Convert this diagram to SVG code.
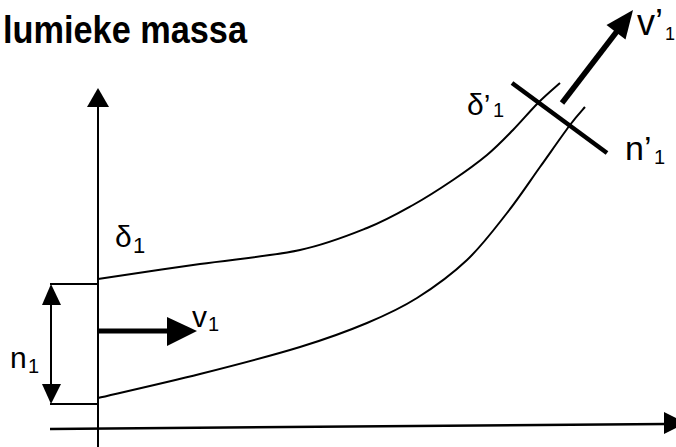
<svg xmlns="http://www.w3.org/2000/svg" width="676" height="447" viewBox="0 0 676 447">
<style>
.ln{stroke:#000;fill:none;stroke-width:2}
.thick{stroke:#000;fill:none;stroke-width:5}
.ah{fill:#000;stroke:none}
.t{font-family:"Liberation Sans",Arial,sans-serif;fill:#000}
</style>
<rect width="676" height="447" fill="#fff"/>
<g id="title"><text class="t" x="3" y="43" font-size="38" font-weight="bold" textLength="244" lengthAdjust="spacingAndGlyphs">lumieke massa</text></g>
<g id="axes">
<line class="ln" x1="98" y1="447" x2="98" y2="104"/>
<polygon class="ah" points="98,88 87,107 109,107"/>
<line class="ln" style="stroke-width:2.5" x1="50" y1="429" x2="666" y2="424"/>
<polygon class="ah" points="664,412 686,423 664,434"/>
</g>
<g id="stream">
<path class="ln" d="M98,279 C115,276.5 166.3,268.8 200,264 C233.7,259.2 272.2,256 300,250 C327.8,244 348.2,235.5 367,228 C385.8,220.5 398.7,213 413,205 C427.3,197 440.7,188.3 453,180 C465.3,171.7 477,163.3 487,155 C497,146.7 504.5,138.7 513,130 C521.5,121.3 530.2,110.8 538,103 C545.8,95.2 556.3,86.3 560,83"/>
<path class="ln" d="M98,398 C115,394 166.3,382.5 200,374 C233.7,365.5 272.2,355.5 300,347 C327.8,338.5 347.5,331.2 367,323 C386.5,314.8 400.3,308.5 417,298 C433.7,287.5 452,274.2 467,260 C482,245.8 494.8,228.5 507,213 C519.2,197.5 529.5,181.7 540,167 C550.5,152.3 562.5,135 570,125 C577.5,115 582.5,110 585,107"/>
</g>
<g id="dimension-n1">
<line class="ln" x1="50" y1="284" x2="98" y2="284"/>
<line class="ln" x1="50" y1="404" x2="98" y2="404"/>
<line class="ln" x1="51" y1="300" x2="51" y2="388"/>
<polygon class="ah" points="51,284 42,305 61,305"/>
<polygon class="ah" points="51,404 42,384 61,384"/>
<text class="t" x="10" y="368" font-size="30">n</text><text class="t" x="28" y="373" font-size="20">1</text>
</g>
<g id="v1">
<line class="thick" x1="98" y1="331" x2="170" y2="331"/>
<polygon class="ah" points="167,317 197,331 167,346"/>
<text class="t" x="192" y="327" font-size="30">v</text><text class="t" x="208" y="331" font-size="20">1</text>
</g>
<g id="delta1">
<text class="t" x="115" y="247" font-size="30">δ</text><text class="t" x="133" y="253" font-size="22">1</text>
</g>
<g id="section-out">
<line class="ln" style="stroke-width:4.5" x1="512" y1="83" x2="607" y2="153"/>
<line class="thick" style="stroke-width:5.5" x1="562" y1="103" x2="618" y2="30"/>
<polygon class="ah" points="633,10 606.5,25 625.5,39.6"/>
<text class="t" x="467" y="115" font-size="30">δ’</text><text class="t" x="493" y="117" font-size="20">1</text>
<text class="t" x="637" y="35" font-size="36">v’</text><text class="t" x="665" y="40" font-size="18">1</text>
<text class="t" x="625" y="160" font-size="34">n’</text><text class="t" x="654" y="164" font-size="20">1</text>
</g>
</svg>
